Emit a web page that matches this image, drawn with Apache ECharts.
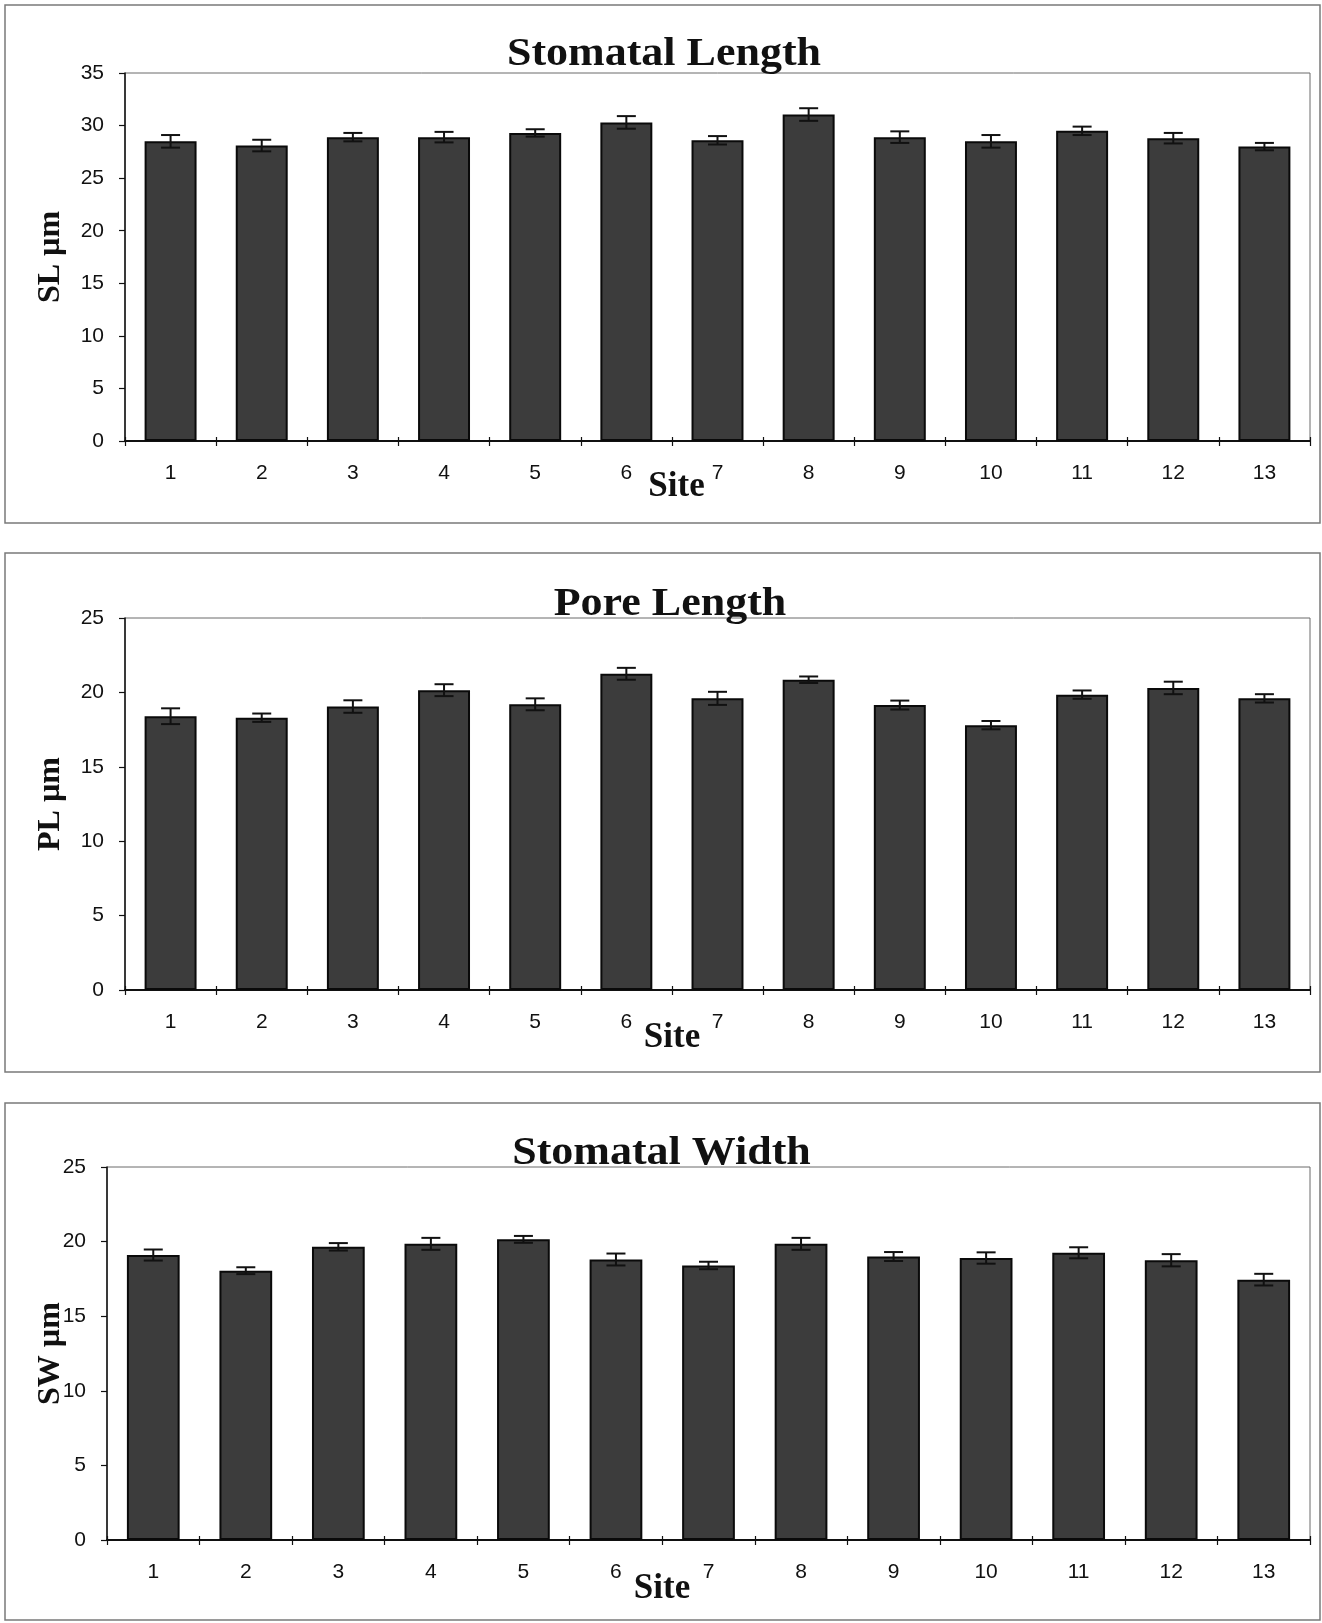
<!DOCTYPE html>
<html>
<head>
<meta charset="utf-8">
<title>Stomatal dimensions by site</title>
<script src="https://cdn.jsdelivr.net/npm/echarts@6/dist/echarts.min.js"></script>
<style>
  html, body { margin: 0; padding: 0; background: #fff; }
  #chart { width: 1322px; height: 1623px; }
</style>
</head>
<body>
<div id="chart"></div>
<script>
// Sites along the x axis
const sites = ['1', '2', '3', '4', '5', '6', '7', '8', '9', '10', '11', '12', '13'];

// Stomatal length (µm): means and standard errors
const slMean = [28.5, 28.1, 28.9, 28.9, 29.3, 30.3, 28.6, 31.05, 28.9, 28.5, 29.5, 28.8, 28.0];
const slErr  = [0.6, 0.55, 0.4, 0.5, 0.35, 0.6, 0.4, 0.6, 0.55, 0.6, 0.4, 0.5, 0.35];

// Pore length (µm)
const plMean = [18.4, 18.3, 19.05, 20.15, 19.2, 21.25, 19.6, 20.85, 19.15, 17.8, 19.85, 20.3, 19.6];
const plErr  = [0.53, 0.28, 0.42, 0.4, 0.4, 0.4, 0.44, 0.22, 0.3, 0.28, 0.28, 0.42, 0.28];

// Stomatal width (µm)
const swMean = [19.1, 18.05, 19.65, 19.85, 20.15, 18.8, 18.4, 19.85, 19.0, 18.9, 19.25, 18.75, 17.45];
const swErr  = [0.37, 0.23, 0.25, 0.4, 0.23, 0.4, 0.25, 0.4, 0.3, 0.38, 0.37, 0.41, 0.39];

// Axis ranges
const slAxis = { max: 35, interval: 5 };
const plAxis = { max: 25, interval: 5 };
const swAxis = { max: 25, interval: 5 };

const INK = '#111';
const SANS = '"Liberation Sans", Arial, sans-serif';
const SERIF = '"Liberation Serif", "Times New Roman", serif';

const panels = [
  { title: 'Stomatal Length', yName: 'SL µm', mean: slMean, err: slErr, axis: slAxis,
    grid: { left: 125, top: 73, width: 1185, height: 368 }, nameGap: 58,
    frame: { x: 5, y: 5, width: 1315, height: 518 },
    titlePos: [664, 54.5], sitePos: [676.5, 487] },
  { title: 'Pore Length', yName: 'PL µm', mean: plMean, err: plErr, axis: plAxis,
    grid: { left: 125, top: 618, width: 1185, height: 372 }, nameGap: 58,
    frame: { x: 5, y: 553, width: 1315, height: 519 },
    titlePos: [670, 605], sitePos: [672, 1037.5] },
  { title: 'Stomatal Width', yName: 'SW µm', mean: swMean, err: swErr, axis: swAxis,
    grid: { left: 107, top: 1167, width: 1203, height: 373 }, nameGap: 40,
    frame: { x: 5, y: 1103, width: 1315, height: 517 },
    titlePos: [661.5, 1154], sitePos: [662, 1588.5] }
];

const grids = [], xAxes = [], yAxes = [], series = [], graphics = [];

// Error bar: vertical whisker with caps at mean ± error
function renderErrorBar(params, api) {
  const i = api.value(0), v = api.value(1), e = api.value(2);
  const hi = api.coord([i, v + e]);
  const lo = api.coord([i, v - e]);
  const hw = 9.5;
  const st = { stroke: INK, lineWidth: 2 };
  return {
    type: 'group',
    children: [
      { type: 'line', shape: { x1: hi[0], y1: hi[1], x2: lo[0], y2: lo[1] }, style: st },
      { type: 'line', shape: { x1: hi[0] - hw, y1: hi[1], x2: hi[0] + hw, y2: hi[1] }, style: st },
      { type: 'line', shape: { x1: lo[0] - hw, y1: lo[1], x2: lo[0] + hw, y2: lo[1] }, style: st }
    ]
  };
}

panels.forEach((p, k) => {
  grids.push(Object.assign({ show: true, borderColor: '#6a6a6a', borderWidth: 1, backgroundColor: 'transparent' }, p.grid));

  // Main category axis: line, outward ticks, labels
  xAxes.push({
    gridIndex: k, type: 'category', data: sites, position: 'bottom',
    axisLine: { show: true, lineStyle: { color: INK, width: 2 } },
    axisTick: { show: true, inside: false, length: 5, lineStyle: { color: INK, width: 1.2 } },
    axisLabel: { margin: 22, fontSize: 21, fontFamily: SANS, color: INK },
    splitLine: { show: false }
  });
  // Companion axis giving the inward half of the crossing ticks
  xAxes.push({
    gridIndex: k, type: 'category', data: sites, position: 'bottom',
    axisLine: { show: false },
    axisTick: { show: true, inside: true, length: 4, lineStyle: { color: INK, width: 1.2 } },
    axisLabel: { show: false },
    splitLine: { show: false }
  });

  yAxes.push({
    gridIndex: k, type: 'value', min: 0, max: p.axis.max, interval: p.axis.interval,
    name: p.yName, nameLocation: 'middle', nameRotate: 90, nameGap: p.nameGap,
    nameMoveOverlap: false,
    nameTextStyle: { fontFamily: SERIF, fontWeight: 'bold', fontSize: 32, color: INK },
    axisLine: { show: true, lineStyle: { color: INK, width: 1.5 } },
    axisTick: { show: true, inside: false, length: 6, lineStyle: { color: INK, width: 1.2 } },
    axisLabel: { margin: 21, fontSize: 21, fontFamily: SANS, color: INK },
    splitLine: { show: false }
  });

  series.push({
    type: 'bar', xAxisIndex: 2 * k, yAxisIndex: k,
    data: p.mean, barWidth: '57%',
    itemStyle: { color: '#3c3c3c', borderColor: '#0a0a0a', borderWidth: 2 },
    z: 2
  });

  series.push({
    type: 'custom', xAxisIndex: 2 * k, yAxisIndex: k,
    data: p.mean.map((m, i) => [i, m, p.err[i]]),
    encode: { x: 0, y: 1 },
    renderItem: renderErrorBar,
    z: 5
  });

  // Panel frame
  graphics.push({
    type: 'rect', silent: true,
    shape: p.frame,
    style: { fill: null, stroke: '#7a7a7a', lineWidth: 1.5 },
    z: -1
  });

  // Panel title
  graphics.push({
    type: 'text', x: p.titlePos[0], y: p.titlePos[1], scaleX: 1.1,
    style: {
      text: p.title, fill: INK,
      font: 'bold 40px ' + SERIF,
      align: 'center', verticalAlign: 'middle',
      textAlign: 'center', textVerticalAlign: 'middle'
    },
    z: 10
  });

  // X axis name
  graphics.push({
    type: 'text', x: p.sitePos[0], y: p.sitePos[1],
    style: {
      text: 'Site', fill: INK,
      font: 'bold 35px ' + SERIF,
      align: 'center', verticalAlign: 'middle',
      textAlign: 'center', textVerticalAlign: 'middle'
    },
    z: 10
  });
});

const chart = echarts.init(document.getElementById('chart'), null, { renderer: 'canvas' });
chart.setOption({
  backgroundColor: '#ffffff',
  animation: false,
  grid: grids,
  xAxis: xAxes,
  yAxis: yAxes,
  series: series,
  graphic: graphics
});
</script>
</body>
</html>
